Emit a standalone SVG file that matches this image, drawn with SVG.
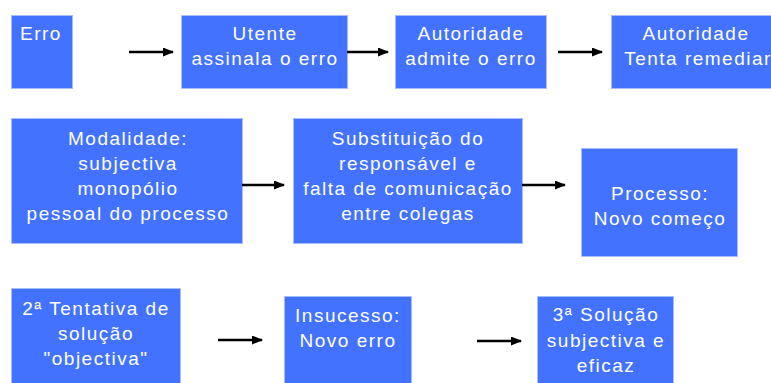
<svg xmlns="http://www.w3.org/2000/svg" width="771" height="383" viewBox="0 0 771 383">
<style>
.box{fill:#4272ff;stroke:#a9bcff;stroke-width:1}
.t{font-family:"Liberation Sans",Arial,sans-serif;font-size:19px;fill:#ffffff;letter-spacing:1.5px;text-anchor:middle}
.c{stroke:#000;stroke-width:2.5;fill:none;marker-end:url(#ah)}
</style>
<defs>
<marker id="ah" markerUnits="userSpaceOnUse" markerWidth="11" markerHeight="9" refX="10" refY="4.5" orient="auto">
<path d="M0,0 L11,4.5 L0,9 Z" fill="#000"/>
</marker>
</defs>
<rect width="771" height="383" fill="#fff"/>
<g id="n1"><rect class="box" x="11.5" y="15.5" width="61" height="73"/><text class="t" x="20" y="40" style="text-anchor:start">Erro</text></g>
<g id="n2"><rect class="box" x="181.5" y="15.5" width="166" height="73"/><text class="t" x="265" y="40">Utente</text><text class="t" x="265" y="65">assinala o erro</text></g>
<g id="n3"><rect class="box" x="395.5" y="15.5" width="151" height="73"/><text class="t" x="471" y="40">Autoridade</text><text class="t" x="471" y="65">admite o erro</text></g>
<g id="n4"><rect class="box" x="611.5" y="15.5" width="175" height="73"/><text class="t" x="696" y="40">Autoridade</text><text class="t" x="698" y="65">Tenta remediar</text></g>
<g id="n5"><rect class="box" x="11.5" y="118.5" width="231" height="125"/><text class="t" x="128" y="145">Modalidade:</text><text class="t" x="128" y="170">subjectiva</text><text class="t" x="128" y="195">monopólio</text><text class="t" x="128" y="220">pessoal do processo</text></g>
<g id="n6"><rect class="box" x="293.5" y="118.5" width="229" height="125"/><text class="t" x="408" y="145">Substituição do</text><text class="t" x="408" y="170">responsável e</text><text class="t" x="408" y="195">falta de comunicação</text><text class="t" x="408" y="220">entre colegas</text></g>
<g id="n7"><rect class="box" x="581.5" y="148.5" width="156" height="108"/><text class="t" x="660" y="200">Processo:</text><text class="t" x="660" y="225">Novo começo</text></g>
<g id="n8"><rect class="box" x="11.5" y="288.5" width="169" height="100"/><text class="t" x="96" y="315">2ª Tentativa de</text><text class="t" x="96" y="340">solução</text><text class="t" x="96" y="365">"objectiva"</text></g>
<g id="n9"><rect class="box" x="284.5" y="296.5" width="127" height="92"/><text class="t" x="348" y="322">Insucesso:</text><text class="t" x="348" y="347">Novo erro</text></g>
<g id="n10"><rect class="box" x="537.5" y="296.5" width="136" height="92"/><text class="t" x="606" y="321">3ª Solução</text><text class="t" x="606" y="347">subjectiva e</text><text class="t" x="606" y="372">eficaz</text></g>
<g id="connectors">
<line class="c" x1="129" y1="52" x2="173" y2="52"/>
<line class="c" x1="347" y1="52" x2="388" y2="52"/>
<line class="c" x1="558" y1="52" x2="602" y2="52"/>
<line class="c" x1="242" y1="185" x2="284" y2="185"/>
<line class="c" x1="522" y1="185" x2="565" y2="185"/>
<line class="c" x1="218" y1="340" x2="262" y2="340"/>
<line class="c" x1="477" y1="341" x2="521" y2="341"/>
</g>
</svg>
